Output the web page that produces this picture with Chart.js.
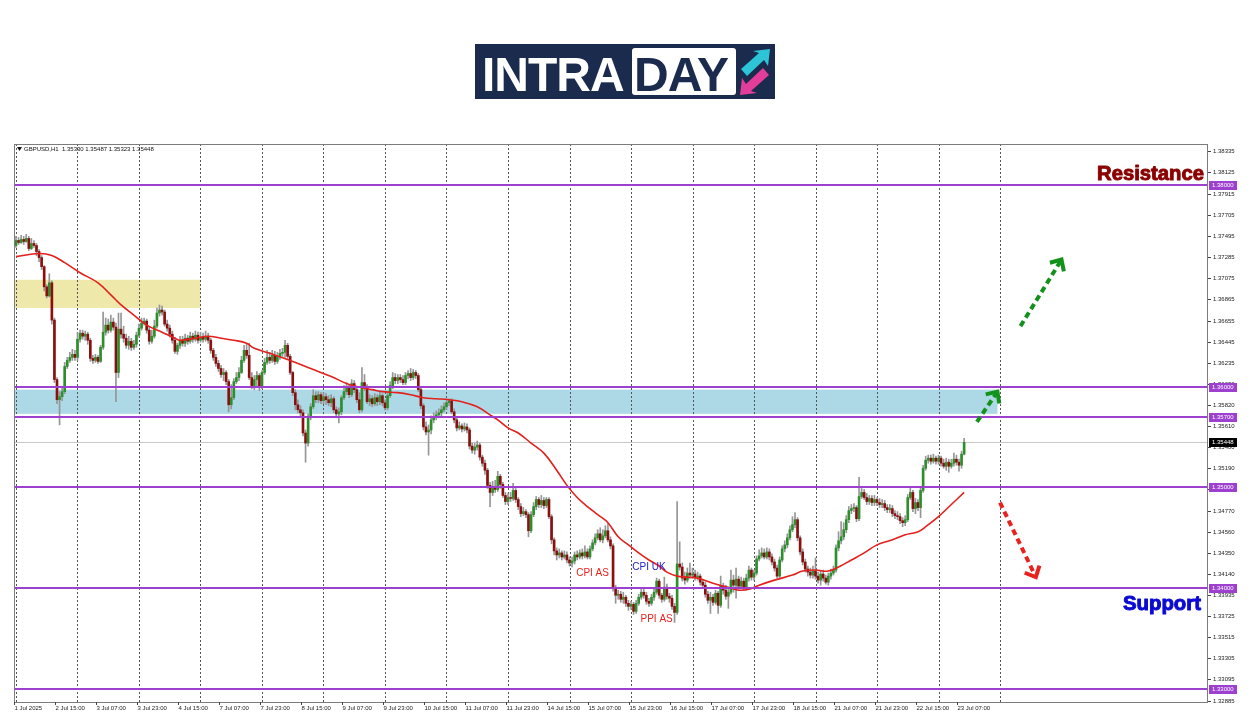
<!DOCTYPE html>
<html lang="en">
<head>
<meta charset="UTF-8">
<title>GBPUSD H1</title>
<script src="https://cdn.jsdelivr.net/npm/chart.js"></script>
<style>
    html, body { margin: 0; padding: 0; background: #fff; }
    body { width: 1250px; height: 716px; position: relative; overflow: hidden; font-family: 'Liberation Sans', Arial, sans-serif; }
    #c { position: absolute; left: 0; top: 0; }
    .logo { position: absolute; left: 475px; top: 44px; width: 300px; height: 55px; background: #1b2b4d; z-index: 2; }
    .logo .intra { position: absolute; left: 7px; top: 3px; font: bold 48px 'Liberation Sans', Arial, sans-serif; color: #fff; letter-spacing: -1px; }
    .logo .day { position: absolute; left: 157px; top: 4px; width: 104px; height: 47px; background: #fff; border-radius: 3px; }
    .logo .day span { position: absolute; left: 2px; top: -1px; font: bold 48px 'Liberation Sans', Arial, sans-serif; color: #1b2b4d; letter-spacing: -1px; }
    .logo svg { position: absolute; left: 262px; top: 3px; }
</style>
</head>
<body>
<canvas id="c" width="1250" height="716"></canvas>
<div class="logo">
    <span class="intra">INTRA</span>
    <div class="day"><span>DAY</span></div>
    <svg width="36" height="50" viewBox="0 0 36 50">
        <polygon points="4,22 22,6 16,4 33,2 31,19 27,13 10,29" fill="#2cc4d6"/>
        <polygon points="32,28 14,44 20,46 3,48 5,31 9,37 26,21" fill="#e23d9a"/>
    </svg>
</div>

<script>
// GBPUSD H1, bars from 1 Jul 23:00 to 23 Jul ~10:00 (one bar per hour)
const firstOpen = 1.3740;
const closes = [
    1.3745,1.3743,1.3746,1.3744,1.3747,1.3737,1.3742,1.3740,1.3734,1.3728,1.3719,1.3699,1.3690,1.3703,1.3666,1.3607,1.3587,1.3590,1.3595,1.3620,1.3626,1.3629,1.3632,1.3629,
    1.3647,1.3653,1.3650,1.3652,1.3646,1.3628,1.3626,1.3629,1.3625,1.3639,1.3654,1.3661,1.3656,1.3664,1.3659,1.3614,1.3657,1.3652,1.3648,1.3641,1.3645,1.3639,1.3642,1.3651,
    1.3658,1.3663,1.3665,1.3656,1.3645,1.3650,1.3660,1.3673,1.3676,1.3674,1.3662,1.3658,1.3652,1.3646,1.3635,1.3641,1.3646,1.3643,1.3648,1.3645,1.3650,1.3647,1.3651,1.3646,
    1.3649,1.3647,1.3650,1.3646,1.3636,1.3629,1.3623,1.3618,1.3612,1.3614,1.3605,1.3582,1.3589,1.3605,1.3609,1.3614,1.3626,1.3636,1.3631,1.3609,1.3601,1.3607,1.3611,1.3600,
    1.3614,1.3624,1.3629,1.3626,1.3631,1.3625,1.3630,1.3633,1.3634,1.3641,1.3630,1.3614,1.3594,1.3582,1.3577,1.3574,1.3554,1.3544,1.3570,1.3580,1.3591,1.3587,1.3592,1.3586,
    1.3590,1.3587,1.3584,1.3588,1.3577,1.3573,1.3575,1.3589,1.3595,1.3599,1.3592,1.3603,1.3597,1.3587,1.3577,1.3604,1.3599,1.3585,1.3588,1.3583,1.3589,1.3585,1.3591,1.3584,
    1.3579,1.3591,1.3601,1.3609,1.3606,1.3609,1.3607,1.3604,1.3611,1.3613,1.3609,1.3614,1.3611,1.3597,1.3581,1.3560,1.3555,1.3557,1.3567,1.3570,1.3572,1.3574,1.3577,1.3580,
    1.3584,1.3586,1.3575,1.3567,1.3559,1.3561,1.3558,1.3560,1.3557,1.3541,1.3537,1.3540,1.3542,1.3530,1.3524,1.3517,1.3502,1.3495,1.3501,1.3498,1.3511,1.3503,1.3492,1.3486,
    1.3490,1.3489,1.3497,1.3488,1.3481,1.3474,1.3476,1.3473,1.3457,1.3473,1.3481,1.3488,1.3483,1.3487,1.3482,1.3488,1.3471,1.3448,1.3437,1.3433,1.3435,1.3431,1.3433,1.3428,
    1.3425,1.3427,1.3433,1.3431,1.3435,1.3432,1.3436,1.3431,1.3439,1.3445,1.3450,1.3454,1.3448,1.3452,1.3457,1.3448,1.3442,1.3400,1.3393,1.3394,1.3389,1.3391,1.3385,1.3382,
    1.3384,1.3377,1.3385,1.3391,1.3396,1.3393,1.3387,1.3385,1.3391,1.3396,1.3407,1.3393,1.3389,1.3401,1.3392,1.3390,1.3382,1.3376,1.3424,1.3421,1.3410,1.3408,1.3415,1.3413,
    1.3414,1.3411,1.3412,1.3406,1.3403,1.3394,1.3388,1.3391,1.3386,1.3395,1.3383,1.3402,1.3398,1.3392,1.3396,1.3408,1.3403,1.3409,1.3402,1.3407,1.3400,1.3410,1.3418,1.3411,
    1.3415,1.3429,1.3432,1.3435,1.3431,1.3436,1.3431,1.3426,1.3420,1.3412,1.3428,1.3439,1.3443,1.3450,1.3458,1.3463,1.3468,1.3450,1.3436,1.3426,1.3419,1.3416,1.3413,1.3417,
    1.3412,1.3408,1.3414,1.3410,1.3406,1.3412,1.3415,1.3418,1.3440,1.3447,1.3451,1.3458,1.3468,1.3477,1.3479,1.3480,1.3469,1.3491,1.3495,1.3490,1.3486,1.3489,1.3485,1.3488,
    1.3485,1.3483,1.3484,1.3480,1.3478,1.3479,1.3474,1.3472,1.3471,1.3467,1.3465,1.3468,1.3490,1.3495,1.3479,1.3485,1.3480,1.3497,1.3519,1.3527,1.3529,1.3526,1.3529,1.3526,
    1.3529,1.3524,1.3521,1.3525,1.3521,1.3524,1.3528,1.3525,1.3522,1.3533,1.35448
];
const highs = [
    1.3749,1.3748,1.3750,1.3749,1.3751,1.3749,1.3747,1.3745,1.3742,1.3736,1.3730,1.3720,1.3701,1.3712,1.3705,1.3668,1.3609,1.3595,1.3599,1.3624,1.3629,1.3634,1.3637,1.3636,
    1.3654,1.3656,1.3656,1.3655,1.3654,1.3648,1.3631,1.3632,1.3631,1.3641,1.3674,1.3668,1.3667,1.3671,1.3668,1.3663,1.3673,1.3673,1.3660,1.3652,1.3650,1.3648,1.3646,1.3654,
    1.3662,1.3668,1.3668,1.3667,1.3659,1.3656,1.3666,1.3678,1.3681,1.3680,1.3676,1.3666,1.3661,1.3655,1.3649,1.3643,1.3650,1.3650,1.3652,1.3651,1.3654,1.3653,1.3655,1.3654,
    1.3654,1.3653,1.3655,1.3653,1.3648,1.3638,1.3632,1.3626,1.3621,1.3618,1.3616,1.3607,1.3602,1.3608,1.3614,1.3619,1.3630,1.3641,1.3643,1.3643,1.3614,1.3611,1.3615,1.3613,
    1.3616,1.3628,1.3636,1.3634,1.3636,1.3635,1.3634,1.3637,1.3638,1.3646,1.3643,1.3632,1.3615,1.3597,1.3587,1.3581,1.3577,1.3557,1.3573,1.3583,1.3597,1.3595,1.3595,1.3594,
    1.3594,1.3593,1.3591,1.3592,1.3590,1.3580,1.3579,1.3591,1.3601,1.3604,1.3602,1.3607,1.3606,1.3600,1.3594,1.3619,1.3612,1.3602,1.3592,1.3591,1.3593,1.3592,1.3595,1.3593,
    1.3587,1.3594,1.3605,1.3614,1.3613,1.3612,1.3612,1.3611,1.3614,1.3616,1.3618,1.3617,1.3616,1.3613,1.3599,1.3583,1.3565,1.3562,1.3571,1.3574,1.3576,1.3578,1.3581,1.3584,
    1.3587,1.3588,1.3588,1.3578,1.3570,1.3565,1.3563,1.3564,1.3563,1.3559,1.3544,1.3544,1.3546,1.3544,1.3532,1.3527,1.3519,1.3505,1.3506,1.3507,1.3516,1.3513,1.3505,1.3495,
    1.3494,1.3495,1.3504,1.3499,1.3490,1.3484,1.3480,1.3478,1.3475,1.3476,1.3485,1.3491,1.3490,1.3492,1.3490,1.3490,1.3490,1.3473,1.3450,1.3440,1.3439,1.3437,1.3437,1.3436,
    1.3431,1.3431,1.3436,1.3437,1.3438,1.3439,1.3442,1.3439,1.3442,1.3448,1.3454,1.3458,1.3460,1.3458,1.3462,1.3464,1.3451,1.3444,1.3403,1.3398,1.3397,1.3396,1.3393,1.3388,
    1.3387,1.3386,1.3388,1.3394,1.3400,1.3399,1.3396,1.3390,1.3394,1.3400,1.3410,1.3409,1.3395,1.3411,1.3404,1.3395,1.3393,1.3385,1.3486,1.3446,1.3425,1.3416,1.3420,1.3425,
    1.3420,1.3418,1.3416,1.3414,1.3409,1.3406,1.3397,1.3396,1.3394,1.3398,1.3397,1.3412,1.3405,1.3403,1.3401,1.3418,1.3413,1.3420,1.3412,1.3411,1.3410,1.3414,1.3422,1.3420,
    1.3418,1.3432,1.3438,1.3440,1.3439,1.3440,1.3439,1.3434,1.3429,1.3423,1.3431,1.3442,1.3447,1.3454,1.3462,1.3471,1.3475,1.3470,1.3452,1.3439,1.3429,1.3422,1.3420,1.3422,
    1.3430,1.3416,1.3417,1.3418,1.3413,1.3415,1.3419,1.3422,1.3443,1.3456,1.3466,1.3465,1.3472,1.3481,1.3483,1.3484,1.3482,1.3510,1.3499,1.3498,1.3494,1.3492,1.3492,1.3492,
    1.3490,1.3489,1.3488,1.3487,1.3483,1.3483,1.3482,1.3477,1.3476,1.3474,1.3470,1.3472,1.3493,1.3499,1.3497,1.3489,1.3488,1.3500,1.3522,1.3531,1.3532,1.3532,1.3533,1.3531,
    1.3532,1.3531,1.3528,1.3529,1.3528,1.3528,1.3534,1.3532,1.3528,1.3536,1.35487
];
const lows = [
    1.3738,1.3741,1.3742,1.3741,1.3743,1.3735,1.3736,1.3738,1.3730,1.3724,1.3716,1.3695,1.3688,1.3689,1.3662,1.3604,1.3583,1.3562,1.3586,1.3593,1.3618,1.3624,1.3626,1.3626,
    1.3626,1.3644,1.3647,1.3646,1.3642,1.3625,1.3623,1.3624,1.3623,1.3624,1.3637,1.3651,1.3653,1.3654,1.3656,1.3585,1.3609,1.3648,1.3644,1.3638,1.3637,1.3636,1.3637,1.3639,
    1.3649,1.3656,1.3661,1.3653,1.3642,1.3643,1.3648,1.3658,1.3670,1.3671,1.3660,1.3655,1.3649,1.3643,1.3633,1.3632,1.3638,1.3640,1.3640,1.3642,1.3643,1.3644,1.3645,1.3643,
    1.3644,1.3644,1.3645,1.3643,1.3633,1.3626,1.3620,1.3615,1.3609,1.3606,1.3602,1.3575,1.3578,1.3587,1.3603,1.3606,1.3613,1.3624,1.3628,1.3607,1.3598,1.3597,1.3599,1.3596,
    1.3598,1.3612,1.3622,1.3623,1.3624,1.3622,1.3623,1.3627,1.3630,1.3629,1.3628,1.3612,1.3591,1.3577,1.3574,1.3571,1.3551,1.3525,1.3541,1.3567,1.3578,1.3584,1.3584,1.3583,
    1.3583,1.3582,1.3581,1.3580,1.3574,1.3569,1.3564,1.3572,1.3587,1.3592,1.3589,1.3590,1.3594,1.3584,1.3574,1.3575,1.3596,1.3583,1.3581,1.3580,1.3581,1.3581,1.3582,1.3581,
    1.3577,1.3577,1.3589,1.3598,1.3603,1.3603,1.3604,1.3602,1.3602,1.3608,1.3606,1.3607,1.3608,1.3595,1.3578,1.3557,1.3552,1.3532,1.3553,1.3564,1.3567,1.3569,1.3571,1.3575,
    1.3577,1.3581,1.3573,1.3564,1.3556,1.3557,1.3555,1.3556,1.3554,1.3538,1.3534,1.3533,1.3537,1.3527,1.3521,1.3513,1.3499,1.3481,1.3492,1.3495,1.3496,1.3499,1.3490,1.3483,
    1.3483,1.3486,1.3487,1.3485,1.3478,1.3471,1.3472,1.3470,1.3451,1.3455,1.3471,1.3478,1.3480,1.3480,1.3479,1.3480,1.3469,1.3444,1.3433,1.3428,1.3430,1.3428,1.3429,1.3425,
    1.3422,1.3421,1.3424,1.3428,1.3429,1.3429,1.3430,1.3429,1.3429,1.3437,1.3443,1.3448,1.3446,1.3445,1.3450,1.3446,1.3439,1.3397,1.3385,1.3389,1.3386,1.3385,1.3382,1.3378,
    1.3379,1.3374,1.3375,1.3383,1.3389,1.3390,1.3384,1.3382,1.3383,1.3388,1.3394,1.3390,1.3386,1.3387,1.3389,1.3386,1.3379,1.3366,1.3374,1.3418,1.3407,1.3404,1.3406,1.3410,
    1.3410,1.3408,1.3408,1.3403,1.3400,1.3391,1.3385,1.3375,1.3383,1.3384,1.3375,1.3381,1.3394,1.3389,1.3380,1.3394,1.3396,1.3390,1.3399,1.3400,1.3398,1.3398,1.3407,1.3408,
    1.3408,1.3413,1.3427,1.3430,1.3429,1.3429,1.3428,1.3423,1.3417,1.3410,1.3410,1.3426,1.3436,1.3440,1.3448,1.3456,1.3460,1.3447,1.3433,1.3423,1.3416,1.3412,1.3410,1.3410,
    1.3409,1.3405,1.3403,1.3407,1.3404,1.3403,1.3409,1.3413,1.3416,1.3437,1.3444,1.3448,1.3455,1.3465,1.3474,1.3476,1.3466,1.3467,1.3489,1.3488,1.3483,1.3483,1.3482,1.3482,
    1.3482,1.3480,1.3480,1.3477,1.3475,1.3475,1.3471,1.3469,1.3468,1.3464,1.3461,1.3462,1.3466,1.3488,1.3476,1.3474,1.3477,1.3470,1.3495,1.3517,1.3524,1.3523,1.3524,1.3523,
    1.3523,1.3521,1.3519,1.3517,1.3515,1.3519,1.3521,1.3522,1.3516,1.3519,1.35323
];
const opens = [firstOpen].concat(closes.slice(0, -1));

// moving average (bar index, price)
const maBars = [0,9,14,19,25,32,37,41,46,51,57,62,64,70,75,80,85,90,93,99,107,115,123,130,135,139,143,149,154,159,164,169,174,180,185,188,192,196,201,206,211,215,219,223,227,231,235,239,243,247,251,254,258,262,266,272,279,282,286,290,296,303,307,312,317,321,326,331,336,342,347,352,355,360,365,370];
const maValues = [1.3729,1.3732,1.3730,1.3723,1.3713,1.3703,1.3691,1.3681,1.3671,1.3661,1.3654,1.3648,1.3646,1.3648,1.3650,1.3648,1.3646,1.3643,1.3638,1.3633,1.3626,1.3618,1.3610,1.3602,1.3599,1.3597,1.3595,1.3594,1.3592,1.3589,1.3588,1.3587,1.3585,1.3580,1.3572,1.3567,1.3559,1.3554,1.3544,1.3534,1.3517,1.3502,1.3490,1.3481,1.3473,1.3465,1.3451,1.3443,1.3435,1.3428,1.3422,1.3416,1.3412,1.3411,1.3410,1.3405,1.3400,1.3398,1.3399,1.3403,1.3408,1.3413,1.3417,1.3418,1.3417,1.3421,1.3428,1.3435,1.3443,1.3448,1.3453,1.3456,1.3461,1.3471,1.3483,1.3495];

// axes
const xLabelBars = [0,16,32,48,64,80,96,112,128,144,160,176,192,208,224,240,256,272,288,304,320,336,352,368];
const xLabels = ['1 Jul 2025','2 Jul 15:00','3 Jul 07:00','3 Jul 23:00','4 Jul 15:00','7 Jul 07:00','7 Jul 23:00','8 Jul 15:00','9 Jul 07:00','9 Jul 23:00','10 Jul 15:00','11 Jul 07:00','11 Jul 23:00','14 Jul 15:00','15 Jul 07:00','15 Jul 23:00','16 Jul 15:00','17 Jul 07:00','17 Jul 23:00','18 Jul 15:00','21 Jul 07:00','21 Jul 23:00','22 Jul 15:00','23 Jul 07:00'];
const yTicks = [1.38335,1.38125,1.37915,1.37705,1.37495,1.37285,1.37075,1.36865,1.36655,1.36445,1.36235,1.36030,1.35820,1.35610,1.35400,1.35190,1.34980,1.34770,1.34560,1.34350,1.34140,1.33935,1.33725,1.33515,1.33305,1.33095,1.32885];
const levels = [1.38000, 1.36000, 1.35700, 1.35000, 1.34000, 1.33000];
const bidPrice = 1.35448;

// drawn objects
const zoneTop = [1.3706, 1.3597];
const zoneBottom = [1.3678, 1.3573];
const zoneEndBar = [72, 383];
const zoneColor = ['#eee8aa', '#add8e6'];
const arrowFrom = [[375, 1.3565], [392, 1.3660], [384, 1.3485]];
const arrowTo = [[383, 1.3595], [408, 1.3726], [398, 1.3411]];
const arrowColor = ['#12921a', '#12921a', '#e8231e'];
const notes = [
    {text: 'CPI AS', bar: 225, price: 1.3415, color: '#e8231e'},
    {text: 'CPI UK', bar: 247, price: 1.3421, color: '#2020d0'},
    {text: 'PPI AS', bar: 250, price: 1.3369, color: '#e8231e'}
];

const UP = '#2c8f2c', DOWN = '#8a1010', WICK = '#969696', LEVEL = '#9d3fcf';
const GRID_STEP = 24, GRID_LAST = 384;

const wickData = closes.map((c, i) => ({x: i, y: [lows[i], highs[i]]}));
const bodyData = closes.map((c, i) => ({x: i, y: [opens[i], c]}));
const bodyColors = closes.map((c, i) => c >= opens[i] ? UP : DOWN);
const maData = maBars.map((b, k) => ({x: b, y: maValues[k]}));

function drawArrow(ctx, x0, y0, x1, y1, color) {
    const ang = Math.atan2(y1 - y0, x1 - x0);
    ctx.strokeStyle = color;
    ctx.lineWidth = 4;
    ctx.lineCap = 'butt';
    ctx.setLineDash([6, 4]);
    ctx.beginPath();
    ctx.moveTo(x0, y0);
    ctx.lineTo(x1 - 3 * Math.cos(ang), y1 - 3 * Math.sin(ang));
    ctx.stroke();
    ctx.setLineDash([]);
    const h = 12, s = 0.75;
    ctx.beginPath();
    ctx.moveTo(x1 - h * Math.cos(ang - s), y1 - h * Math.sin(ang - s));
    ctx.lineTo(x1, y1);
    ctx.lineTo(x1 - h * Math.cos(ang + s), y1 - h * Math.sin(ang + s));
    ctx.stroke();
}

// heavy label squeezed to the width it has in the picture
function fitText(ctx, text, xRight, yMid, width, font, color) {
    ctx.font = font;
    const w = ctx.measureText(text).width;
    ctx.save();
    ctx.translate(xRight - width, yMid);
    ctx.scale(width / w, 1);
    ctx.fillStyle = color;
    ctx.strokeStyle = color;
    ctx.lineWidth = 1;
    ctx.lineJoin = 'round';
    ctx.textAlign = 'left';
    ctx.textBaseline = 'middle';
    ctx.fillText(text, 0, 0);
    ctx.strokeText(text, 0, 0);
    ctx.restore();
}

const mt4 = {
    id: 'mt4',
    beforeDatasetsDraw(chart) {
        const {ctx, chartArea: a, scales: {x, y}} = chart;
        ctx.save();
        // zones
        for (let k = 0; k < zoneTop.length; k++) {
            const y0 = y.getPixelForValue(zoneTop[k]);
            const y1 = y.getPixelForValue(zoneBottom[k]);
            const x1 = x.getPixelForValue(zoneEndBar[k]);
            ctx.fillStyle = zoneColor[k];
            ctx.fillRect(a.left, y0, x1 - a.left, y1 - y0);
        }
        // vertical dotted grid
        ctx.strokeStyle = '#555';
        ctx.lineWidth = 1;
        ctx.setLineDash([2, 2]);
        for (let b = 0; b <= GRID_LAST; b += GRID_STEP) {
            const px = Math.round(x.getPixelForValue(b)) + 0.5;
            ctx.beginPath();
            ctx.moveTo(px, a.top);
            ctx.lineTo(px, a.bottom);
            ctx.stroke();
        }
        ctx.setLineDash([]);
        // bid line
        const by = Math.round(y.getPixelForValue(bidPrice)) + 0.5;
        ctx.strokeStyle = '#c8c8c8';
        ctx.beginPath();
        ctx.moveTo(a.left, by);
        ctx.lineTo(a.right, by);
        ctx.stroke();
        ctx.restore();
    },
    afterDatasetsDraw(chart) {
        const {ctx, chartArea: a, scales: {x, y}} = chart;
        ctx.save();
        // horizontal levels
        ctx.strokeStyle = LEVEL;
        ctx.lineWidth = 2;
        levels.forEach(v => {
            const py = Math.round(y.getPixelForValue(v));
            ctx.beginPath();
            ctx.moveTo(a.left, py);
            ctx.lineTo(a.right, py);
            ctx.stroke();
        });
        // arrows
        for (let k = 0; k < arrowFrom.length; k++) {
            drawArrow(ctx,
                x.getPixelForValue(arrowFrom[k][0]), y.getPixelForValue(arrowFrom[k][1]),
                x.getPixelForValue(arrowTo[k][0]), y.getPixelForValue(arrowTo[k][1]),
                arrowColor[k]);
        }
        // event notes
        ctx.font = '10px "Liberation Sans", Arial, sans-serif';
        ctx.textAlign = 'center';
        ctx.textBaseline = 'middle';
        notes.forEach(n => {
            ctx.fillStyle = n.color;
            ctx.fillText(n.text, x.getPixelForValue(n.bar), y.getPixelForValue(n.price));
        });
        // big labels
        fitText(ctx, 'Resistance', 1204, y.getPixelForValue(1.3811), 107, 'bold 21px "Liberation Sans", Arial, sans-serif', '#8b0000');
        fitText(ctx, 'Support', 1201, y.getPixelForValue(1.3384), 78, 'bold 21px "Liberation Sans", Arial, sans-serif', '#0a0ad2');

        // frame
        ctx.strokeStyle = '#7c7c7c';
        ctx.lineWidth = 1;
        ctx.strokeRect(a.left + 0.5, a.top + 0.5, a.right - a.left - 1, a.bottom - a.top);

        // right price axis
        ctx.font = '6px "Liberation Sans", Arial, sans-serif';
        ctx.textAlign = 'left';
        ctx.textBaseline = 'middle';
        yTicks.forEach(v => {
            const py = Math.round(y.getPixelForValue(v)) + 0.5;
            ctx.strokeStyle = '#444';
            ctx.beginPath();
            ctx.moveTo(a.right, py);
            ctx.lineTo(a.right + 3, py);
            ctx.stroke();
            ctx.fillStyle = '#222';
            ctx.fillText(v.toFixed(5), a.right + 5, py);
        });
        const tag = (v, bg) => {
            const py = Math.round(y.getPixelForValue(v));
            ctx.fillStyle = bg;
            ctx.fillRect(a.right + 1, py - 4, 28, 9);
            ctx.fillStyle = '#fff';
            ctx.fillText(v.toFixed(5), a.right + 4, py + 0.5);
        };
        levels.forEach(v => tag(v, LEVEL));
        tag(bidPrice, '#000');

        // time axis
        ctx.textBaseline = 'middle';
        xLabelBars.forEach((b, k) => {
            const px = Math.round(x.getPixelForValue(b)) - 1.5;
            ctx.strokeStyle = '#444';
            ctx.beginPath();
            ctx.moveTo(px, a.bottom);
            ctx.lineTo(px, a.bottom + 3);
            ctx.stroke();
            ctx.fillStyle = '#222';
            ctx.fillText(xLabels[k], px, a.bottom + 6.5);
        });

        // symbol header
        ctx.fillStyle = '#111';
        ctx.beginPath();
        ctx.moveTo(17, 147);
        ctx.lineTo(22, 147);
        ctx.lineTo(19.5, 151);
        ctx.closePath();
        ctx.fill();
        ctx.font = '6px "Liberation Sans", Arial, sans-serif';
        ctx.fillText('GBPUSD,H1  ' + opens[opens.length - 1].toFixed(5) + ' ' + highs[highs.length - 1].toFixed(5) + ' ' +
            lows[lows.length - 1].toFixed(5) + ' ' + closes[closes.length - 1].toFixed(5), 24, 149.5);
        ctx.restore();
    }
};

new Chart(document.getElementById('c'), {
    type: 'bar',
    data: {
        datasets: [{
            type: 'line',
            data: maData,
            borderColor: '#e3201b',
            borderWidth: 1.6,
            pointRadius: 0,
            tension: 0.4,
            order: 0
        }, {
            data: bodyData,
            backgroundColor: bodyColors,
            barThickness: 2,
            minBarLength: 1,
            grouped: false,
            order: 1
        }, {
            data: wickData,
            backgroundColor: WICK,
            barThickness: 1,
            grouped: false,
            order: 2
        }]
    },
    options: {
        responsive: false,
        animation: false,
        events: [],
        layout: { padding: { left: 14, top: 144, right: 42, bottom: 14 } },
        plugins: { legend: { display: false }, tooltip: { enabled: false } },
        scales: {
            x: { type: 'linear', min: -0.78, max: 465.17, offset: false, display: false },
            y: { min: 1.32871, max: 1.38407, display: false }
        }
    },
    plugins: [mt4]
});
</script>
</body>
</html>
